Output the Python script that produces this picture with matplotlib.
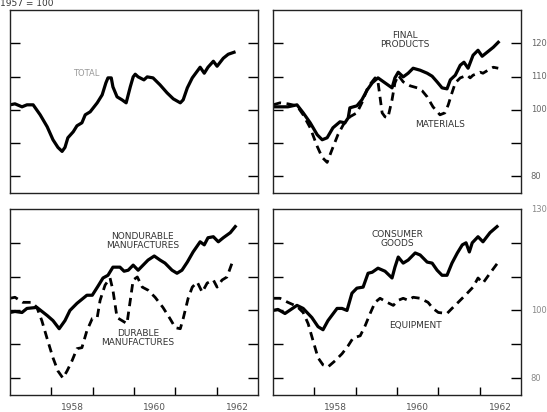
import numpy as np
import matplotlib
matplotlib.use('Agg')
import matplotlib.pyplot as plt

# industrial production indexes, 1957 = 100
total_yr = [1957.00, 1957.12, 1957.29, 1957.41, 1957.56, 1957.73, 1957.90, 1958.04, 1958.16, 1958.26,
            1958.33, 1958.40, 1958.53, 1958.62, 1958.74, 1958.82, 1958.94, 1959.11, 1959.23, 1959.32,
            1959.37, 1959.45, 1959.49, 1959.59, 1959.71, 1959.81, 1959.91, 1959.98, 1960.03, 1960.10,
            1960.24, 1960.32, 1960.46, 1960.63, 1960.80, 1960.95, 1961.12, 1961.19, 1961.29, 1961.41,
            1961.60, 1961.70, 1961.79, 1961.92, 1962.01, 1962.16, 1962.28, 1962.42]
total_val = [101.5, 101.8, 100.9, 101.5, 101.5, 98.5, 94.9, 91.0, 88.7, 87.5,
             88.7, 91.6, 93.4, 95.2, 96.1, 98.5, 99.4, 102.1, 104.5, 108.1,
             109.6, 109.6, 106.9, 103.9, 103.0, 102.1, 106.9, 109.9, 110.7, 109.9,
             109.0, 109.9, 109.6, 107.5, 105.1, 103.3, 102.1, 103.0, 106.6, 109.6,
             112.8, 111.0, 112.8, 114.6, 113.1, 115.5, 116.7, 117.3]

final_yr = [1957.00, 1957.17, 1957.36, 1957.58, 1957.73, 1957.90, 1958.07, 1958.19, 1958.31, 1958.45,
            1958.62, 1958.74, 1958.82, 1958.86, 1959.03, 1959.15, 1959.28, 1959.40, 1959.54, 1959.71,
            1959.88, 1959.95, 1960.03, 1960.15, 1960.27, 1960.39, 1960.56, 1960.73, 1960.85, 1960.97,
            1961.09, 1961.21, 1961.29, 1961.41, 1961.53, 1961.62, 1961.72, 1961.84, 1961.96, 1962.06,
            1962.18, 1962.33, 1962.45]
final_val = [100.9, 100.9, 100.9, 101.5, 99.1, 96.1, 92.5, 91.0, 91.6, 94.6,
             96.4, 96.1, 97.6, 100.6, 101.2, 103.0, 106.0, 108.1, 109.6, 108.1,
             106.6, 109.6, 111.3, 109.9, 111.0, 112.5, 111.9, 111.0, 110.1, 108.4,
             106.6, 106.3, 109.0, 110.4, 113.4, 114.3, 112.5, 116.4, 117.9, 116.1,
             117.3, 118.8, 120.3]

mat_yr = [1957.00, 1957.17, 1957.36, 1957.58, 1957.73, 1957.90, 1958.07, 1958.19, 1958.31, 1958.43,
          1958.57, 1958.70, 1958.86, 1959.03, 1959.15, 1959.30, 1959.47, 1959.54, 1959.64, 1959.71,
          1959.78, 1959.88, 1959.95, 1960.03, 1960.15, 1960.32, 1960.49, 1960.61, 1960.73, 1960.87,
          1961.04, 1961.16, 1961.24, 1961.33, 1961.41, 1961.53, 1961.70, 1961.77, 1961.84, 1962.01,
          1962.08, 1962.20, 1962.33, 1962.45]
mat_val = [101.5, 102.1, 101.8, 101.2, 98.5, 94.6, 89.0, 85.7, 84.2, 88.1,
           92.5, 95.5, 97.9, 99.1, 102.1, 106.9, 109.6, 108.4, 99.1, 97.9,
           97.6, 103.0, 108.1, 110.4, 108.4, 107.2, 106.6, 105.7, 103.9, 100.9,
           98.5, 99.1, 101.5, 105.1, 108.1, 109.6, 110.4, 109.6, 110.4, 111.3,
           111.0, 111.9, 112.8, 112.5]

nondur_yr = [1957.00, 1957.12, 1957.29, 1957.41, 1957.65, 1957.90, 1958.04, 1958.19, 1958.33, 1958.45,
             1958.62, 1958.86, 1958.99, 1959.13, 1959.25, 1959.37, 1959.49, 1959.66, 1959.76, 1959.86,
             1959.98, 1960.10, 1960.22, 1960.34, 1960.49, 1960.63, 1960.75, 1960.92, 1961.04, 1961.16,
             1961.29, 1961.43, 1961.60, 1961.70, 1961.79, 1961.92, 1962.04, 1962.16, 1962.33, 1962.45]
nondur_val = [99.4, 99.7, 99.4, 100.6, 100.9, 98.5, 97.0, 94.6, 97.0, 100.0,
              102.1, 104.5, 104.5, 107.2, 109.6, 110.4, 112.8, 112.8, 111.6, 111.9,
              113.4, 111.9, 113.4, 114.9, 116.1, 114.9, 114.0, 111.9, 111.0, 111.9,
              114.3, 117.3, 120.3, 119.4, 121.5, 121.8, 120.3, 121.5, 123.0, 124.8]

dur_yr = [1957.00, 1957.12, 1957.31, 1957.53, 1957.65, 1957.77, 1957.90, 1958.04, 1958.16, 1958.28,
          1958.38, 1958.50, 1958.62, 1958.74, 1958.86, 1958.99, 1959.11, 1959.18, 1959.30, 1959.42,
          1959.49, 1959.59, 1959.71, 1959.83, 1959.91, 1959.98, 1960.08, 1960.20, 1960.34, 1960.51,
          1960.70, 1960.87, 1961.00, 1961.12, 1961.19, 1961.31, 1961.41, 1961.53, 1961.65, 1961.77,
          1961.92, 1962.01, 1962.13, 1962.25, 1962.38, 1962.45]
dur_val = [103.6, 103.9, 102.4, 102.4, 100.9, 97.0, 91.6, 86.0, 82.1, 80.0,
           82.1, 85.1, 88.7, 89.0, 94.0, 97.6, 97.9, 103.0, 107.5, 109.6,
           106.0, 97.9, 97.0, 96.1, 103.0, 109.0, 109.9, 106.9, 106.0, 103.9,
           100.9, 97.6, 94.9, 94.6, 97.6, 103.6, 106.9, 108.4, 105.4, 108.1,
           109.0, 106.9, 109.0, 109.9, 114.3, 114.0]

cons_yr = [1957.00, 1957.12, 1957.29, 1957.58, 1957.73, 1957.94, 1958.09, 1958.21, 1958.33, 1958.55,
           1958.67, 1958.79, 1958.91, 1959.03, 1959.18, 1959.30, 1959.40, 1959.54, 1959.71, 1959.88,
           1959.95, 1960.03, 1960.15, 1960.27, 1960.44, 1960.56, 1960.73, 1960.85, 1960.97, 1961.09,
           1961.21, 1961.33, 1961.46, 1961.58, 1961.67, 1961.75, 1961.82, 1961.96, 1962.08, 1962.25,
           1962.42]
cons_val = [100.0, 100.3, 99.1, 101.5, 100.6, 97.9, 95.2, 94.3, 97.0, 100.6,
            100.6, 100.0, 105.1, 106.6, 106.9, 111.0, 111.3, 112.5, 111.6, 109.6,
            112.8, 115.8, 114.0, 114.9, 117.0, 116.4, 114.3, 114.0, 111.9, 110.4,
            110.4, 114.0, 117.0, 119.4, 120.0, 117.3, 120.0, 121.8, 120.3, 123.0,
            124.8]

equip_yr = [1957.00, 1957.17, 1957.36, 1957.58, 1957.73, 1957.85, 1957.97, 1958.09, 1958.21, 1958.33,
            1958.50, 1958.67, 1958.82, 1958.94, 1959.11, 1959.23, 1959.35, 1959.47, 1959.59, 1959.76,
            1959.91, 1960.03, 1960.15, 1960.27, 1960.39, 1960.56, 1960.75, 1960.87, 1961.00, 1961.21,
            1961.33, 1961.48, 1961.70, 1961.84, 1961.96, 1962.08, 1962.25, 1962.45]
equip_val = [103.6, 103.6, 102.4, 101.2, 99.4, 96.1, 91.0, 86.0, 83.9, 83.3,
             85.1, 87.2, 89.6, 91.9, 92.5, 95.5, 99.1, 102.4, 103.6, 102.4,
             101.5, 103.0, 103.6, 103.0, 103.9, 103.6, 102.4, 100.6, 99.4, 99.1,
             100.6, 102.4, 105.1, 106.9, 109.6, 108.1, 111.0, 114.3]

yticks = [80, 90, 100, 110, 120]
xticks = [1958, 1959, 1960, 1961, 1962]
year_labels = ['1958', '1960', '1962']

W, H = 547, 412
fig = plt.figure(figsize=(W/100, H/100), dpi=100)

def box(l, t, r, b):
    return fig.add_axes([l/W, 1-b/H, (r-l)/W, (b-t)/H])

ax_tl = box(10, 10, 258, 193)
ax_tr = box(273, 10, 521, 193)
ax_bl = box(10, 209, 258, 395)
ax_br = box(273, 209, 521, 395)

for ax in (ax_tl, ax_tr, ax_bl, ax_br):
    ax.set_xlim(1957.0, 1963.0)
    ax.set_ylim(75.0, 130.0)
    ax.set_yticks(yticks)
    ax.tick_params(axis='y', direction='in', length=7, width=1, left=True, right=True,
                   labelleft=False, labelright=False)
    ax.tick_params(axis='x', direction='in', length=6, width=1, labelbottom=False)
    for s in ax.spines.values():
        s.set_linewidth(1.0)
        s.set_color('#222222')

for ax in (ax_tl, ax_tr):
    ax.set_xticks([])
for ax in (ax_bl, ax_br):
    ax.set_xticks(xticks)

solid = dict(color='black', lw=2.3, solid_joinstyle='round')
dashed = dict(color='black', lw=2.0, ls=(0, (3, 2)))

ax_tl.plot(total_yr, total_val, **solid)
ax_tr.plot(final_yr, final_val, **solid)
ax_tr.plot(mat_yr, mat_val, **dashed)
ax_bl.plot(nondur_yr, nondur_val, **solid)
ax_bl.plot(dur_yr, dur_val, **dashed)
ax_br.plot(cons_yr, cons_val, **solid)
ax_br.plot(equip_yr, equip_val, **dashed)

lab = dict(fontsize=6.5, color='#333333', ha='center', va='center', linespacing=1.0)
ax_tl.text(1958.85, 110.8, 'TOTAL', color='#999999', fontsize=6, ha='center', va='center')
ax_tr.text(1960.2, 121.0, 'FINAL\nPRODUCTS', **lab)
ax_tr.text(1961.05, 95.5, 'MATERIALS', **lab)
ax_bl.text(1960.2, 120.5, 'NONDURABLE\nMANUFACTURES', **lab)
ax_bl.text(1960.1, 92.0, 'DURABLE\nMANUFACTURES', **lab)
ax_br.text(1960.0, 121.0, 'CONSUMER\nGOODS', **lab)
ax_br.text(1960.45, 95.5, 'EQUIPMENT', **lab)

fig.text(0/W, 1-4/H, '1957 = 100', fontsize=6.5, color='#333333', ha='left', va='center')

# right-hand scale labels (faint in the original)
for v, lbl in zip([120, 110, 100, 80], ['120', '110', '100', '80']):
    ax_tr.annotate(lbl, xy=(1.0, v), xycoords=('axes fraction', 'data'), xytext=(7, 0),
                   textcoords='offset points', fontsize=6, color='#666666', va='center')
for v, lbl in zip([130, 100, 80], ['130', '100', '80']):
    ax_br.annotate(lbl, xy=(1.0, v), xycoords=('axes fraction', 'data'), xytext=(7, 0),
                   textcoords='offset points', fontsize=6, color='#888888', va='center')

# year labels centred mid-year under the bottom panels
for ax in (ax_bl, ax_br):
    for lbl in year_labels:
        ax.annotate(lbl, xy=(int(lbl) + 0.5, 0), xycoords=('data', 'axes fraction'),
                    xytext=(0, -9), textcoords='offset points', fontsize=6.5,
                    color='#555555', ha='center', va='center')

fig.savefig('out.png', dpi=100)
